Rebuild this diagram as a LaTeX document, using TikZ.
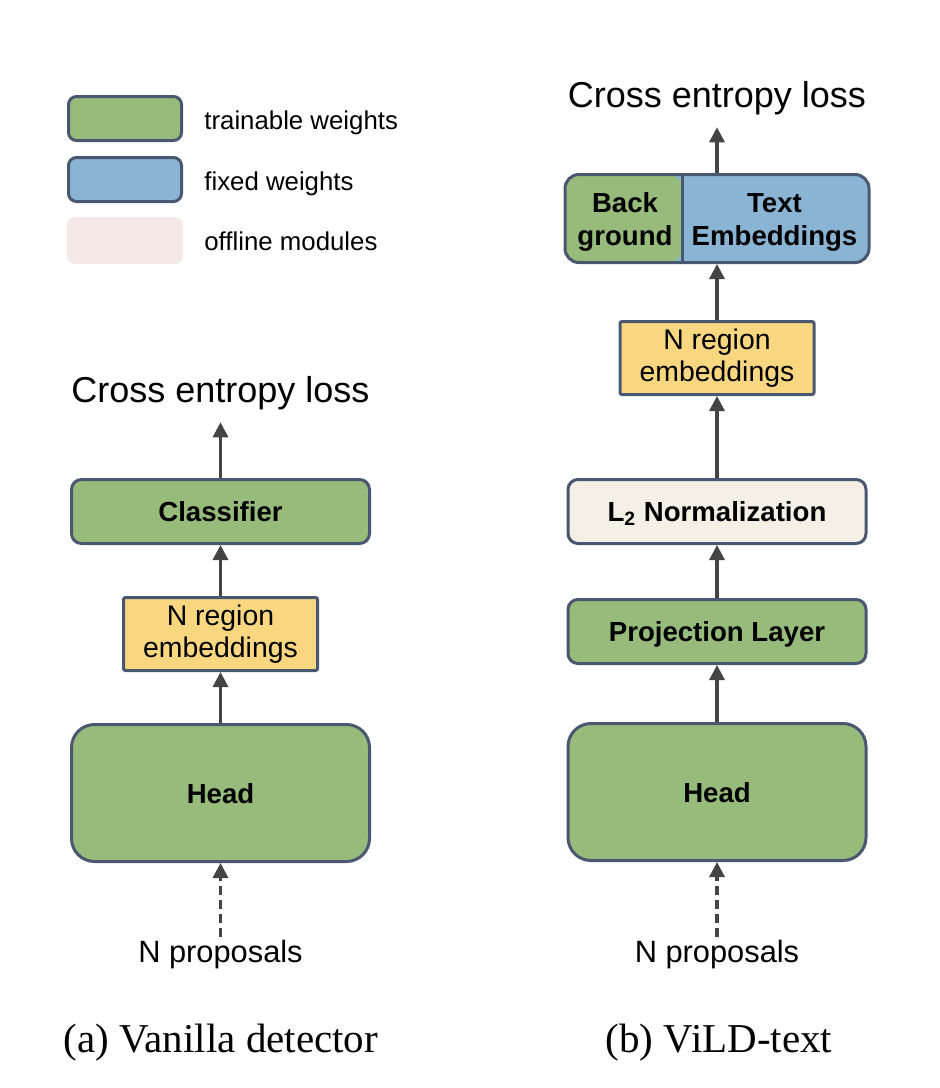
\documentclass[tikz,border=0pt]{standalone}
\usepackage{fontspec}
\setmainfont{Liberation Sans}
\newfontfamily\capfont{Liberation Serif}
\usetikzlibrary{arrows.meta}
\definecolor{trainable}{RGB}{151,187,123}
\definecolor{fixedw}{RGB}{138,180,212}
\definecolor{offline}{RGB}{245,232,230}
\definecolor{embcol}{RGB}{249,214,128}
\definecolor{normcol}{RGB}{245,240,230}
\definecolor{edgecol}{RGB}{74,87,112}
\definecolor{arrowcol}{RGB}{68,68,68}

\begin{document}
\begin{tikzpicture}[x=0.5pt,y=-0.5pt,>={Triangle[length=7.5pt,width=7.5pt]},
    block/.style={draw=edgecol,line width=1.5pt,rounded corners=5pt,minimum width=149pt,minimum height=32pt,
        font=\fontsize{13.8}{16.5}\selectfont\bfseries,text depth=0pt},
    headblock/.style={block,rounded corners=11.5pt,minimum height=68.5pt},
    embblock/.style={draw=edgecol,line width=1.5pt,fill=embcol,rounded corners=1pt,minimum width=97pt,minimum height=36.5pt,
        align=center,font=\fontsize{14.2}{16}\selectfont},
    legbox/.style={draw=edgecol,line width=1.5pt,rounded corners=4pt,minimum width=56.5pt,minimum height=22pt},
    legtext/.style={anchor=base west,inner xsep=0pt,font=\fontsize{12.9}{15}\selectfont},
    losstext/.style={anchor=base,font=\fontsize{18}{21}\selectfont,inner ysep=6.2pt},
    inputtext/.style={anchor=base,font=\fontsize{15.4}{18}\selectfont,inner sep=1pt},
    captext/.style={anchor=base,font=\capfont\fontsize{20.5}{24}\selectfont},
    flow/.style={->,draw=arrowcol,line width=1.6pt},
    dashflow/.style={flow,dash pattern=on 4.5pt off 2.5pt}]
    \useasboundingbox (0,0) rectangle (940,1088);

    \node[legbox,fill=trainable] (legtrain) at (125,118.5) {};
    \node[legbox,fill=fixedw] (legfixed) at (125,179.5) {};
    \node[legbox,draw=none,fill=offline,minimum width=58pt,minimum height=23.5pt] (legoff) at (125,240.5) {};
    \node[legtext] (legtraintxt) at (204,129) {trainable weights};
    \node[legtext] (legfixedtxt) at (204,190) {fixed weights};
    \node[legtext] (legofftxt) at (204,250) {offline modules};

    \node[losstext] (lossA) at (220.5,402) {Cross entropy loss};
    \node[block,fill=trainable] (clsA) at (220.5,511.5) {Classifier};
    \node[embblock] (embA) at (220.5,634) {N region\\embeddings};
    \node[headblock,fill=trainable] (headA) at (220.5,793) {Head};
    \node[inputtext] (propA) at (220.5,962) {N proposals};
    \node[captext] (capA) at (221,1052) {(a) Vanilla detector};

    \draw[dashflow] (propA) -- (headA);
    \draw[flow] (headA) -- (embA);
    \draw[flow] (embA) -- (clsA);
    \draw[flow] (clsA) -- (lossA);

    \node[losstext] (lossB) at (717,107) {Cross entropy loss};
    \node[block,fill=fixedw,rounded corners=7pt,minimum width=152pt,minimum height=44pt,
        path picture={\fill[trainable] (path picture bounding box.south west) rectangle ([xshift=58.75pt]path picture bounding box.north west);}]
        (logits) at (717,218.5) {};
    \draw[edgecol,line width=1.5pt] ([xshift=59.5pt]logits.north west) -- ([xshift=59.5pt]logits.south west);
    \node[align=center,font=\fontsize{13.8}{16.5}\selectfont\bfseries] (bgtxt) at (625,222) {Back\\ground};
    \node[align=center,font=\fontsize{13.8}{16.5}\selectfont\bfseries] (texttxt) at (774.5,222) {Text\\Embeddings};
    \node[embblock] (embB) at (717,358) {N region\\embeddings};
    \node[block,fill=normcol] (normB) at (717,511.5) {L\textsubscript{2} Normalization};
    \node[block,fill=trainable] (projB) at (717,631.5) {Projection Layer};
    \node[headblock,fill=trainable] (headB) at (717,792) {Head};
    \node[inputtext] (propB) at (717,962) {N proposals};
    \node[captext] (capB) at (719,1052) {(b) ViLD-text};

    \draw[dashflow] (propB) -- (headB);
    \draw[flow] (headB) -- (projB);
    \draw[flow] (projB) -- (normB);
    \draw[flow] (normB) -- (embB);
    \draw[flow] (embB) -- (logits);
    \draw[flow] (logits) -- (lossB);
\end{tikzpicture}
\end{document}
